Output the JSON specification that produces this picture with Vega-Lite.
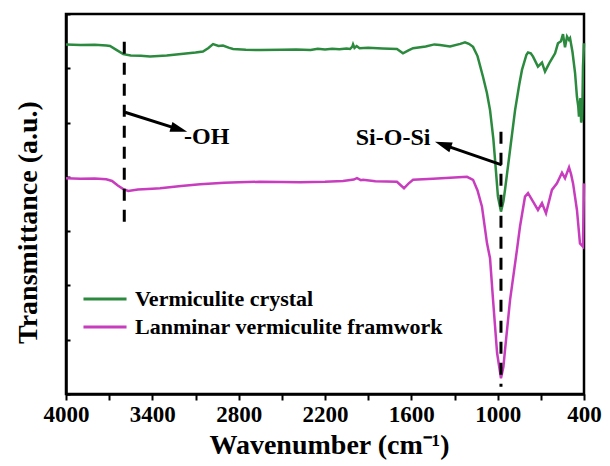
{
  "$schema": "https://vega.github.io/schema/vega-lite/v6.json",
  "width": 518,
  "height": 380,
  "autosize": "none",
  "padding": {"left": 66, "top": 14, "right": 26, "bottom": 72},
  "background": "white",
  "config": {
    "view": {"stroke": "black", "strokeWidth": 2.5},
    "font": "Liberation Serif"
  },
  "datasets": {
    "spectra": [
      {"wn": 4000, "t": 12.88, "s": "Vermiculite crystal"},
      {"wn": 3900, "t": 12.86, "s": "Vermiculite crystal"},
      {"wn": 3800, "t": 12.87, "s": "Vermiculite crystal"},
      {"wn": 3720, "t": 12.84, "s": "Vermiculite crystal"},
      {"wn": 3694, "t": 12.82, "s": "Vermiculite crystal"},
      {"wn": 3650, "t": 12.68, "s": "Vermiculite crystal"},
      {"wn": 3602, "t": 12.52, "s": "Vermiculite crystal"},
      {"wn": 3550, "t": 12.47, "s": "Vermiculite crystal"},
      {"wn": 3480, "t": 12.46, "s": "Vermiculite crystal"},
      {"wn": 3416, "t": 12.43, "s": "Vermiculite crystal"},
      {"wn": 3300, "t": 12.47, "s": "Vermiculite crystal"},
      {"wn": 3200, "t": 12.53, "s": "Vermiculite crystal"},
      {"wn": 3100, "t": 12.58, "s": "Vermiculite crystal"},
      {"wn": 3048, "t": 12.62, "s": "Vermiculite crystal"},
      {"wn": 3010, "t": 12.75, "s": "Vermiculite crystal"},
      {"wn": 2978, "t": 12.89, "s": "Vermiculite crystal"},
      {"wn": 2940, "t": 12.82, "s": "Vermiculite crystal"},
      {"wn": 2909, "t": 12.84, "s": "Vermiculite crystal"},
      {"wn": 2870, "t": 12.76, "s": "Vermiculite crystal"},
      {"wn": 2839, "t": 12.71, "s": "Vermiculite crystal"},
      {"wn": 2750, "t": 12.68, "s": "Vermiculite crystal"},
      {"wn": 2652, "t": 12.675, "s": "Vermiculite crystal"},
      {"wn": 2500, "t": 12.68, "s": "Vermiculite crystal"},
      {"wn": 2400, "t": 12.69, "s": "Vermiculite crystal"},
      {"wn": 2300, "t": 12.67, "s": "Vermiculite crystal"},
      {"wn": 2250, "t": 12.72, "s": "Vermiculite crystal"},
      {"wn": 2200, "t": 12.69, "s": "Vermiculite crystal"},
      {"wn": 2150, "t": 12.72, "s": "Vermiculite crystal"},
      {"wn": 2100, "t": 12.70, "s": "Vermiculite crystal"},
      {"wn": 2050, "t": 12.73, "s": "Vermiculite crystal"},
      {"wn": 2026, "t": 12.71, "s": "Vermiculite crystal"},
      {"wn": 2010, "t": 12.80, "s": "Vermiculite crystal"},
      {"wn": 2005, "t": 12.88, "s": "Vermiculite crystal"},
      {"wn": 1995, "t": 12.75, "s": "Vermiculite crystal"},
      {"wn": 1980, "t": 12.82, "s": "Vermiculite crystal"},
      {"wn": 1960, "t": 12.74, "s": "Vermiculite crystal"},
      {"wn": 1900, "t": 12.76, "s": "Vermiculite crystal"},
      {"wn": 1800, "t": 12.73, "s": "Vermiculite crystal"},
      {"wn": 1700, "t": 12.71, "s": "Vermiculite crystal"},
      {"wn": 1658, "t": 12.55, "s": "Vermiculite crystal"},
      {"wn": 1620, "t": 12.66, "s": "Vermiculite crystal"},
      {"wn": 1588, "t": 12.74, "s": "Vermiculite crystal"},
      {"wn": 1500, "t": 12.80, "s": "Vermiculite crystal"},
      {"wn": 1440, "t": 12.88, "s": "Vermiculite crystal"},
      {"wn": 1401, "t": 12.86, "s": "Vermiculite crystal"},
      {"wn": 1331, "t": 12.80, "s": "Vermiculite crystal"},
      {"wn": 1260, "t": 12.90, "s": "Vermiculite crystal"},
      {"wn": 1227, "t": 12.96, "s": "Vermiculite crystal"},
      {"wn": 1200, "t": 12.90, "s": "Vermiculite crystal"},
      {"wn": 1171, "t": 12.79, "s": "Vermiculite crystal"},
      {"wn": 1140, "t": 12.45, "s": "Vermiculite crystal"},
      {"wn": 1102, "t": 11.69, "s": "Vermiculite crystal"},
      {"wn": 1075, "t": 11.1, "s": "Vermiculite crystal"},
      {"wn": 1053, "t": 10.46, "s": "Vermiculite crystal"},
      {"wn": 1030, "t": 9.4, "s": "Vermiculite crystal"},
      {"wn": 1018, "t": 8.62, "s": "Vermiculite crystal"},
      {"wn": 998, "t": 7.27, "s": "Vermiculite crystal"},
      {"wn": 977, "t": 6.72, "s": "Vermiculite crystal"},
      {"wn": 960, "t": 7.1, "s": "Vermiculite crystal"},
      {"wn": 949, "t": 7.52, "s": "Vermiculite crystal"},
      {"wn": 914, "t": 8.99, "s": "Vermiculite crystal"},
      {"wn": 879, "t": 10.46, "s": "Vermiculite crystal"},
      {"wn": 850, "t": 11.4, "s": "Vermiculite crystal"},
      {"wn": 831, "t": 11.94, "s": "Vermiculite crystal"},
      {"wn": 800, "t": 12.5, "s": "Vermiculite crystal"},
      {"wn": 789, "t": 12.58, "s": "Vermiculite crystal"},
      {"wn": 770, "t": 12.55, "s": "Vermiculite crystal"},
      {"wn": 754, "t": 12.43, "s": "Vermiculite crystal"},
      {"wn": 720, "t": 12.06, "s": "Vermiculite crystal"},
      {"wn": 692, "t": 12.21, "s": "Vermiculite crystal"},
      {"wn": 671, "t": 11.88, "s": "Vermiculite crystal"},
      {"wn": 650, "t": 12.1, "s": "Vermiculite crystal"},
      {"wn": 636, "t": 12.24, "s": "Vermiculite crystal"},
      {"wn": 601, "t": 12.55, "s": "Vermiculite crystal"},
      {"wn": 581, "t": 12.92, "s": "Vermiculite crystal"},
      {"wn": 560, "t": 13.0, "s": "Vermiculite crystal"},
      {"wn": 546, "t": 13.26, "s": "Vermiculite crystal"},
      {"wn": 532, "t": 12.77, "s": "Vermiculite crystal"},
      {"wn": 518, "t": 13.17, "s": "Vermiculite crystal"},
      {"wn": 505, "t": 13.05, "s": "Vermiculite crystal"},
      {"wn": 497, "t": 13.11, "s": "Vermiculite crystal"},
      {"wn": 480, "t": 12.6, "s": "Vermiculite crystal"},
      {"wn": 462, "t": 11.82, "s": "Vermiculite crystal"},
      {"wn": 449, "t": 10.95, "s": "Vermiculite crystal"},
      {"wn": 440, "t": 10.6, "s": "Vermiculite crystal"},
      {"wn": 435, "t": 10.22, "s": "Vermiculite crystal"},
      {"wn": 425, "t": 10.9, "s": "Vermiculite crystal"},
      {"wn": 420, "t": 10.0, "s": "Vermiculite crystal"},
      {"wn": 414, "t": 10.1, "s": "Vermiculite crystal"},
      {"wn": 410, "t": 11.0, "s": "Vermiculite crystal"},
      {"wn": 407, "t": 12.06, "s": "Vermiculite crystal"},
      {"wn": 400, "t": 12.92, "s": "Vermiculite crystal"},
      {"wn": 4000, "t": 7.95, "s": "Lanminar vermiculite framwork"},
      {"wn": 3900, "t": 7.93, "s": "Lanminar vermiculite framwork"},
      {"wn": 3800, "t": 7.94, "s": "Lanminar vermiculite framwork"},
      {"wn": 3720, "t": 7.91, "s": "Lanminar vermiculite framwork"},
      {"wn": 3680, "t": 7.85, "s": "Lanminar vermiculite framwork"},
      {"wn": 3640, "t": 7.68, "s": "Lanminar vermiculite framwork"},
      {"wn": 3602, "t": 7.55, "s": "Lanminar vermiculite framwork"},
      {"wn": 3567, "t": 7.48, "s": "Lanminar vermiculite framwork"},
      {"wn": 3500, "t": 7.53, "s": "Lanminar vermiculite framwork"},
      {"wn": 3400, "t": 7.56, "s": "Lanminar vermiculite framwork"},
      {"wn": 3346, "t": 7.58, "s": "Lanminar vermiculite framwork"},
      {"wn": 3200, "t": 7.66, "s": "Lanminar vermiculite framwork"},
      {"wn": 3068, "t": 7.73, "s": "Lanminar vermiculite framwork"},
      {"wn": 2900, "t": 7.78, "s": "Lanminar vermiculite framwork"},
      {"wn": 2800, "t": 7.80, "s": "Lanminar vermiculite framwork"},
      {"wn": 2652, "t": 7.82, "s": "Lanminar vermiculite framwork"},
      {"wn": 2500, "t": 7.81, "s": "Lanminar vermiculite framwork"},
      {"wn": 2374, "t": 7.80, "s": "Lanminar vermiculite framwork"},
      {"wn": 2200, "t": 7.82, "s": "Lanminar vermiculite framwork"},
      {"wn": 2075, "t": 7.85, "s": "Lanminar vermiculite framwork"},
      {"wn": 2000, "t": 7.90, "s": "Lanminar vermiculite framwork"},
      {"wn": 1978, "t": 7.95, "s": "Lanminar vermiculite framwork"},
      {"wn": 1950, "t": 7.88, "s": "Lanminar vermiculite framwork"},
      {"wn": 1936, "t": 7.89, "s": "Lanminar vermiculite framwork"},
      {"wn": 1850, "t": 7.84, "s": "Lanminar vermiculite framwork"},
      {"wn": 1700, "t": 7.82, "s": "Lanminar vermiculite framwork"},
      {"wn": 1651, "t": 7.58, "s": "Lanminar vermiculite framwork"},
      {"wn": 1620, "t": 7.75, "s": "Lanminar vermiculite framwork"},
      {"wn": 1588, "t": 7.89, "s": "Lanminar vermiculite framwork"},
      {"wn": 1450, "t": 7.93, "s": "Lanminar vermiculite framwork"},
      {"wn": 1331, "t": 7.97, "s": "Lanminar vermiculite framwork"},
      {"wn": 1213, "t": 8.00, "s": "Lanminar vermiculite framwork"},
      {"wn": 1171, "t": 7.89, "s": "Lanminar vermiculite framwork"},
      {"wn": 1140, "t": 7.5, "s": "Lanminar vermiculite framwork"},
      {"wn": 1109, "t": 6.90, "s": "Lanminar vermiculite framwork"},
      {"wn": 1074, "t": 5.55, "s": "Lanminar vermiculite framwork"},
      {"wn": 1053, "t": 5.0, "s": "Lanminar vermiculite framwork"},
      {"wn": 1032, "t": 3.46, "s": "Lanminar vermiculite framwork"},
      {"wn": 1004, "t": 1.51, "s": "Lanminar vermiculite framwork"},
      {"wn": 977, "t": 0.58, "s": "Lanminar vermiculite framwork"},
      {"wn": 960, "t": 1.0, "s": "Lanminar vermiculite framwork"},
      {"wn": 949, "t": 1.62, "s": "Lanminar vermiculite framwork"},
      {"wn": 914, "t": 3.46, "s": "Lanminar vermiculite framwork"},
      {"wn": 866, "t": 5.31, "s": "Lanminar vermiculite framwork"},
      {"wn": 845, "t": 6.16, "s": "Lanminar vermiculite framwork"},
      {"wn": 810, "t": 7.27, "s": "Lanminar vermiculite framwork"},
      {"wn": 789, "t": 7.40, "s": "Lanminar vermiculite framwork"},
      {"wn": 754, "t": 7.09, "s": "Lanminar vermiculite framwork"},
      {"wn": 720, "t": 6.78, "s": "Lanminar vermiculite framwork"},
      {"wn": 692, "t": 7.03, "s": "Lanminar vermiculite framwork"},
      {"wn": 664, "t": 6.66, "s": "Lanminar vermiculite framwork"},
      {"wn": 623, "t": 7.52, "s": "Lanminar vermiculite framwork"},
      {"wn": 588, "t": 7.76, "s": "Lanminar vermiculite framwork"},
      {"wn": 553, "t": 8.15, "s": "Lanminar vermiculite framwork"},
      {"wn": 532, "t": 7.95, "s": "Lanminar vermiculite framwork"},
      {"wn": 504, "t": 8.35, "s": "Lanminar vermiculite framwork"},
      {"wn": 490, "t": 8.1, "s": "Lanminar vermiculite framwork"},
      {"wn": 476, "t": 7.76, "s": "Lanminar vermiculite framwork"},
      {"wn": 449, "t": 6.78, "s": "Lanminar vermiculite framwork"},
      {"wn": 428, "t": 5.55, "s": "Lanminar vermiculite framwork"},
      {"wn": 407, "t": 5.43, "s": "Lanminar vermiculite framwork"},
      {"wn": 400, "t": 7.76, "s": "Lanminar vermiculite framwork"}
    ],
    "dashes": [
      {"wn": 3595, "t": 12.98, "t2": 6.25},
      {"wn": 977, "t": 9.66, "t2": 0.27}
    ],
    "shafts": [
      {"wn": 3590, "t": 10.38, "wn2": 3214, "t2": 9.75},
      {"wn": 972, "t": 8.44, "wn2": 1380, "t2": 9.19}
    ],
    "head1": [{"wn": 3214, "t": 9.75}],
    "head2": [{"wn": 1380, "t": 9.19}],
    "label1": [{"wn": 3180, "t": 9.48, "txt": "-OH"}],
    "label2": [{"wn": 1727, "t": 9.42, "txt": "Si-O-Si"}]
  },
  "layer": [
    {
      "data": {"name": "spectra"},
      "mark": {"type": "line", "strokeWidth": 2.5, "interpolate": "linear"},
      "encoding": {
        "x": {
          "field": "wn", "type": "quantitative",
          "scale": {"domain": [4000, 400], "nice": false, "zero": false},
          "axis": {
            "title": "Wavenumber (cm⁻¹)",
            "values": [4000, 3700, 3400, 3100, 2800, 2500, 2200, 1900, 1600, 1300, 1000, 700, 400],
            "format": "d",
            "labelExpr": "datum.value % 600 == 400 ? datum.label : ''",
            "grid": false,
            "domainColor": "black", "domainWidth": 2.5,
            "tickColor": "black", "tickWidth": 2, "tickSize": 6,
            "labelFont": "Liberation Serif", "labelFontWeight": "bold", "labelFontSize": 23,
            "labelColor": "black", "labelPadding": 3, "labelFlush": false, "labelOverlap": false,
            "titleFont": "Liberation Serif", "titleFontWeight": "bold", "titleFontSize": 28,
            "titleColor": "black", "titleY": 59, "titleBaseline": "alphabetic", "titleX": 263
          }
        },
        "y": {
          "field": "t", "type": "quantitative",
          "scale": {"domain": [0, 14], "nice": false, "zero": false},
          "axis": {
            "title": "Transmittance (a.u.)",
            "values": [0, 1, 2, 3, 4, 5, 6, 7, 8, 9, 10, 11, 12, 13, 14],
            "labels": false,
            "grid": false,
            "domainColor": "black", "domainWidth": 2.5,
            "tickColor": "black", "tickWidth": 2, "tickSize": -4,
            "titleFont": "Liberation Serif", "titleFontWeight": "bold", "titleFontSize": 28,
            "titleColor": "black", "titleX": -30, "titleY": 208, "titleBaseline": "alphabetic"
          }
        },
        "color": {
          "field": "s", "type": "nominal",
          "scale": {"domain": ["Vermiculite crystal", "Lanminar vermiculite framwork"], "range": ["#2b8a3e", "#c83cbe"]},
          "legend": {
            "title": null,
            "orient": "none",
            "legendX": 28,
            "legendY": 274,
            "symbolType": "M-3,0H3",
            "symbolSize": 206,
            "symbolStrokeWidth": 3,
            "labelFont": "Liberation Serif",
            "labelFontWeight": "bold",
            "labelFontSize": 22,
            "labelColor": "black",
            "labelOffset": 19,
            "rowPadding": 6,
            "padding": 0,
            "labelLimit": 400
          }
        }
      }
    },
    {
      "data": {"name": "dashes"},
      "mark": {"type": "rule", "strokeWidth": 3, "strokeDash": [12, 9], "color": "black"},
      "encoding": {
        "x": {"field": "wn", "type": "quantitative"},
        "y": {"field": "t", "type": "quantitative"},
        "y2": {"field": "t2"}
      }
    },
    {
      "data": {"name": "shafts"},
      "mark": {"type": "rule", "strokeWidth": 3, "color": "black"},
      "encoding": {
        "x": {"field": "wn", "type": "quantitative"},
        "y": {"field": "t", "type": "quantitative"},
        "x2": {"field": "wn2"},
        "y2": {"field": "t2"}
      }
    },
    {
      "data": {"name": "head1"},
      "mark": {"type": "point", "shape": "M0,-1L0.6,1L-0.6,1Z", "size": 289, "filled": true, "color": "black", "opacity": 1, "angle": 107},
      "encoding": {
        "x": {"field": "wn", "type": "quantitative"},
        "y": {"field": "t", "type": "quantitative"}
      }
    },
    {
      "data": {"name": "head2"},
      "mark": {"type": "point", "shape": "M0,-1L0.6,1L-0.6,1Z", "size": 289, "filled": true, "color": "black", "opacity": 1, "angle": 289},
      "encoding": {
        "x": {"field": "wn", "type": "quantitative"},
        "y": {"field": "t", "type": "quantitative"}
      }
    },
    {
      "data": {"name": "label1"},
      "mark": {"type": "text", "font": "Liberation Serif", "fontWeight": "bold", "fontSize": 24, "align": "left", "baseline": "middle", "color": "black"},
      "encoding": {
        "x": {"field": "wn", "type": "quantitative"},
        "y": {"field": "t", "type": "quantitative"},
        "text": {"field": "txt"}
      }
    },
    {
      "data": {"name": "label2"},
      "mark": {"type": "text", "font": "Liberation Serif", "fontWeight": "bold", "fontSize": 24, "align": "center", "baseline": "middle", "color": "black"},
      "encoding": {
        "x": {"field": "wn", "type": "quantitative"},
        "y": {"field": "t", "type": "quantitative"},
        "text": {"field": "txt"}
      }
    }
  ]
}
